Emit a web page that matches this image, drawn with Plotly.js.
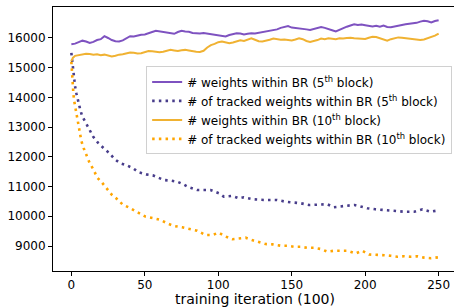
<!DOCTYPE html>
<html>
<head>
<meta charset="utf-8">
<script src="https://cdn.plot.ly/plotly-3.0.1.min.js"></script>
<style>
html,body{margin:0;padding:0;background:#fff;overflow:hidden;}
#chart{width:458px;height:307px;}
</style>
</head>
<body>
<div id="chart"></div>
<script>
// ---- data ----
const xSolid = [0,1,2.5,5,7.5,10,12.5,15,17.5,20,22.5,25,27.5,30,32.5,35,37.5,40,42.5,45,47.5,50,52.5,55,57.5,60,62.5,65,67.5,70,72.5,75,77.5,80,82.5,85,87.5,90,92.5,95,97.5,100,102.5,105,107.5,110,112.5,115,117.5,120,122.5,125,127.5,130,132.5,135,137.5,140,142.5,145,147.5,150,152.5,155,157.5,160,162.5,165,167.5,170,172.5,175,177.5,180,182.5,185,187.5,190,192.5,195,197.5,200,202.5,205,207.5,210,212.5,215,217.5,220,222.5,225,227.5,230,232.5,235,237.5,240,242.5,245,247.5,250];

const weights5 = [15790,15800,15810,15860,15910,15880,15830,15870,15930,15960,16060,16000,15930,15890,15880,15920,15990,16060,16050,16090,16110,16120,16170,16200,16240,16220,16200,16190,16170,16140,16200,16240,16220,16210,16170,16160,16150,16170,16150,16120,16090,16070,16060,16050,16100,16130,16160,16150,16120,16140,16160,16150,16170,16200,16210,16230,16260,16290,16340,16380,16400,16350,16340,16320,16300,16290,16270,16300,16330,16370,16340,16290,16260,16220,16280,16340,16380,16420,16460,16440,16450,16430,16400,16390,16410,16380,16420,16370,16360,16390,16430,16440,16460,16470,16480,16510,16550,16580,16560,16520,16570,16600];

const weights10 = [15220,15330,15400,15430,15450,15470,15460,15440,15450,15420,15440,15400,15380,15400,15440,15450,15480,15510,15500,15480,15490,15520,15560,15550,15530,15520,15540,15570,15600,15580,15560,15590,15600,15580,15550,15540,15530,15570,15680,15760,15800,15860,15880,15850,15820,15850,15880,15920,15900,15950,15990,15940,15890,15880,15900,15940,15980,15960,15940,15950,15930,15920,15950,15990,15960,15900,15870,15890,15930,15980,15960,15990,15970,15960,15990,15980,16000,16010,15990,15980,15960,15970,16010,16040,16030,15990,15970,15910,15960,16000,16020,16010,15990,15970,15960,15950,15930,15950,15990,16040,16080,16150];

const xTracked5 = [0,1,1.6,2.5,3.4,4.5,6,7.3,10,12.5,14.8,18.2,22,26,29.5,33.4,37.5,42,45.9,50.9,55.4,59,63,68,72,76,80,85.6,90,94.7,100.4,103.8,109.5,114,117.4,124.2,131,140,145.8,151.5,156,161.7,168.5,174.2,178.7,184.4,190,192.8,198,201.5,207,212.8,218.5,226.4,233.3,239,244.6,250];
const tracked5 = [15500,14950,14700,14380,14140,13890,13600,13375,13150,12900,12680,12470,12290,12120,11920,11785,11720,11615,11480,11410,11380,11310,11220,11200,11165,11080,10975,10885,10890,10885,10775,10660,10685,10605,10640,10570,10550,10550,10490,10460,10440,10380,10380,10405,10305,10350,10370,10380,10305,10270,10235,10210,10210,10155,10155,10235,10155,10200];

const xTracked10 = [0,0.3,0.6,0.9,1.4,2,2.9,3.6,4.5,5.5,6.8,8.4,10.7,12.5,15.2,17.5,20.9,24.3,27.7,31.1,35,39,42.5,45.9,50.4,56,60.6,65.2,69.7,75.4,81,85.6,91.3,95.9,100.4,105,109.5,114,118.6,123,127.6,132.2,136.8,142.4,147,151.5,156,160.6,165,169.7,174.2,178.7,183.3,187.9,193.5,198,202.6,207,212.8,217.4,222,226.4,231,235.6,240,244.6,250];
const tracked10 = [15200,14920,14665,14385,14105,13860,13610,13330,13070,12795,12535,12290,12040,11785,11560,11310,11130,10910,10715,10580,10390,10300,10210,10100,9990,9935,9880,9765,9675,9630,9565,9515,9370,9370,9450,9320,9230,9265,9280,9200,9145,9065,9055,9010,9010,8975,8975,8940,8940,8900,8810,8840,8840,8840,8750,8840,8715,8715,8690,8670,8640,8655,8640,8655,8610,8590,8620];

const seriesNames = [
  "# weights within BR (5<sup>th</sup> block)",
  "# of tracked weights within BR (5<sup>th</sup> block)",
  "# weights within BR (10<sup>th</sup> block)",
  "# of tracked weights within BR (10<sup>th</sup> block)"
];
const xTickVals = [0,50,100,150,200,250];
const yTickVals = [9000,10000,11000,12000,13000,14000,15000,16000];
const xTitle = "training iteration (100)";

const dotDash = "2.5px,4.2px";
const traces = [
  {x:xSolid, y:weights5, name:seriesNames[0], mode:"lines", line:{color:"#7e52c0", width:2}},
  {x:xTracked5, y:tracked5, name:seriesNames[1], mode:"lines", line:{color:"#483d8b", width:2.6, dash:dotDash}},
  {x:xSolid, y:weights10, name:seriesNames[2], mode:"lines", line:{color:"#f0b232", width:2}},
  {x:xTracked10, y:tracked10, name:seriesNames[3], mode:"lines", line:{color:"#ffa500", width:2.6, dash:dotDash}}
];

const tickFont = {family:"DejaVu Sans, sans-serif", size:12, color:"#000"};
const titleFont = {family:"DejaVu Sans, sans-serif", size:14, color:"#000"};
const layout = {
  width:458, height:307,
  margin:{l:53, r:1, t:7, b:36},
  paper_bgcolor:"#fff", plot_bgcolor:"#fff",
  font:tickFont,
  showlegend:true,
  xaxis:{
    range:[-12.5,262.5], tickvals:xTickVals, ticks:"outside", ticklen:4, tickwidth:1, tickcolor:"#000",
    showline:true, linecolor:"#000", linewidth:1, mirror:true, showgrid:false, zeroline:false,
    ticklabelstandoff:-1,
    tickfont:tickFont, title:{text:xTitle, font:titleFont, standoff:5}
  },
  yaxis:{
    range:[8159,17043], tickvals:yTickVals, ticks:"outside", ticklen:4, tickwidth:1, tickcolor:"#000",
    showline:true, linecolor:"#000", linewidth:1, mirror:true, showgrid:false, zeroline:false,
    tickfont:tickFont, tickformat:"d"
  },
  legend:{
    x:0.988, y:0.775, xanchor:"right", yanchor:"top",
    bgcolor:"rgba(255,255,255,0.85)", bordercolor:"#d0d0d0", borderwidth:1,
    font:{family:"DejaVu Sans, sans-serif", size:12, color:"#000"},
    itemwidth:30, tracegroupgap:0
  }
};
Plotly.newPlot("chart", traces, layout, {staticPlot:true, displayModeBar:false});
</script>
</body>
</html>
